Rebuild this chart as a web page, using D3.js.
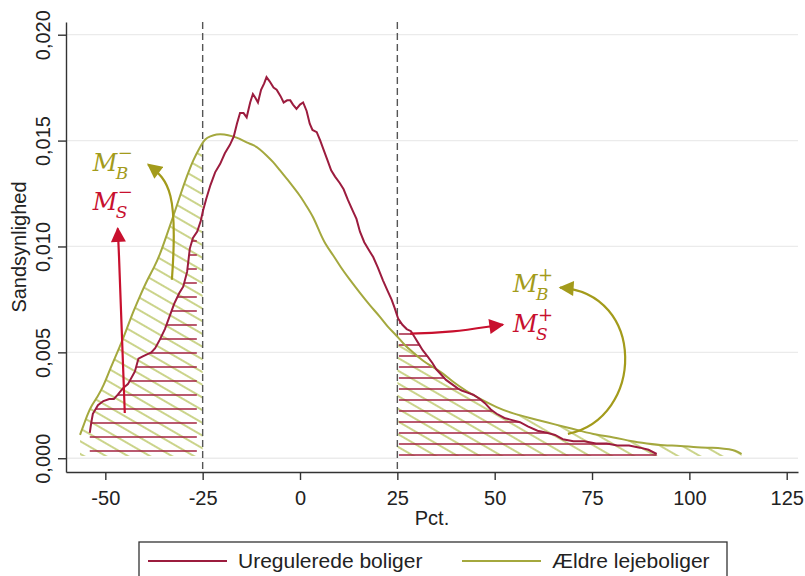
<!DOCTYPE html>
<html>
<head>
<meta charset="utf-8">
<script src="https://cdn.jsdelivr.net/npm/d3@7"></script>
<style>
  body { margin: 0; background: #fff; }
  svg { display: block; font-family: "Liberation Sans", Arial, sans-serif; }
</style>
</head>
<body>
<svg width="805" height="576"></svg>
<script>
// Uregulerede boliger [pct, sandsynlighed]
const uregulerede = [
  [-54.0, 0.0012], [-53.6, 0.0017], [-53.2, 0.0021], [-51.9, 0.0025], [-50.5, 0.0027],
  [-49.0, 0.0028], [-47.8, 0.0028], [-46.8, 0.0030], [-45.5, 0.0033], [-44.2, 0.0035],
  [-42.4, 0.0041], [-41.5, 0.0047], [-40.5, 0.0048], [-39.3, 0.0049], [-38.2, 0.0050],
  [-37.2, 0.0052], [-36.0, 0.0056], [-34.7, 0.0061], [-33.5, 0.0067], [-32.3, 0.0073],
  [-31.0, 0.0078], [-30.0, 0.0081], [-29.0, 0.0088], [-28.3, 0.0099], [-27.5, 0.0104],
  [-26.4, 0.0107], [-25.5, 0.0112], [-24.9, 0.0117], [-24.0, 0.0123], [-23.0, 0.0129],
  [-21.8, 0.0135], [-20.5, 0.0139], [-19.3, 0.0144], [-18.0, 0.0148], [-17.0, 0.0152],
  [-16.2, 0.0158], [-15.4, 0.0163], [-14.5, 0.0163], [-13.7, 0.0161], [-12.8, 0.0168],
  [-12.1, 0.0172], [-11.4, 0.0170], [-10.8, 0.0168], [-10.0, 0.0174], [-9.2, 0.0177],
  [-8.6, 0.0180], [-7.8, 0.0178], [-6.8, 0.0175], [-6.0, 0.0174], [-5.0, 0.0171],
  [-4.2, 0.0168], [-3.3, 0.0169], [-2.5, 0.0169], [-1.8, 0.0167], [-0.9, 0.0165],
  [0.0, 0.0167], [0.8, 0.0168], [1.7, 0.0164], [2.5, 0.0158], [3.2, 0.0155],
  [4.3, 0.0154], [5.2, 0.0150], [6.0, 0.0146], [7.0, 0.0141], [8.0, 0.0136],
  [9.0, 0.0133], [10.2, 0.0130], [11.2, 0.0127], [12.3, 0.0122], [13.5, 0.0117],
  [14.5, 0.0113], [15.4, 0.0107], [16.5, 0.0102], [17.8, 0.0098], [18.8, 0.0095],
  [20.0, 0.0090], [21.3, 0.0084], [22.5, 0.0079], [23.5, 0.0075], [24.3, 0.0071],
  [25.2, 0.0066], [26.3, 0.0063], [27.4, 0.0061], [28.5, 0.0060], [29.5, 0.0057],
  [30.5, 0.0054], [31.5, 0.0051], [32.8, 0.0048], [34.0, 0.0045], [35.0, 0.0042],
  [36.0, 0.0040], [37.5, 0.0037], [39.0, 0.0035], [40.5, 0.0033], [41.5, 0.0032],
  [43.0, 0.0031], [44.5, 0.0030], [46.2, 0.0028], [47.5, 0.0026], [49.0, 0.0023],
  [50.5, 0.0021], [52.5, 0.0019], [54.5, 0.0018], [56.5, 0.0017], [58.5, 0.0015],
  [61.0, 0.0013], [63.4, 0.0012], [65.5, 0.0011], [67.5, 0.0009], [70.2, 0.0008],
  [73.0, 0.0008], [76.0, 0.0007], [78.8, 0.0007], [81.5, 0.0006], [84.5, 0.0006],
  [87.3, 0.0005], [89.5, 0.0004], [91.6, 0.0002]
];

// Ældre lejeboliger [pct, sandsynlighed]
const aeldre = [
  [-56.5, 0.0011], [-55.5, 0.0016], [-54.5, 0.0021], [-53.5, 0.0025], [-52.0, 0.0029],
  [-50.5, 0.0034], [-48.8, 0.0042], [-46.2, 0.0053], [-44.5, 0.0061], [-42.9, 0.0069],
  [-41.0, 0.0077], [-39.3, 0.0084], [-37.5, 0.0090], [-36.0, 0.0096], [-34.3, 0.0105],
  [-32.6, 0.0114], [-30.8, 0.0124], [-29.1, 0.0133], [-27.4, 0.0141], [-25.7, 0.0147],
  [-24.3, 0.0151], [-23.1, 0.0152], [-21.5, 0.0153], [-19.5, 0.0153], [-17.2, 0.0152],
  [-15.5, 0.0151], [-13.7, 0.0149], [-12.0, 0.0148], [-10.3, 0.0146], [-8.6, 0.0143],
  [-6.9, 0.0140], [-5.2, 0.0136], [-3.4, 0.0132], [-1.7, 0.0128], [0.0, 0.0124],
  [1.7, 0.0119], [3.4, 0.0114], [5.0, 0.0107], [6.5, 0.0101], [8.5, 0.0096],
  [10.5, 0.0090], [12.5, 0.0085], [15.4, 0.0078], [18.0, 0.0072], [20.5, 0.0067],
  [22.5, 0.0062], [24.8, 0.0058], [27.0, 0.0053], [29.1, 0.0050], [31.5, 0.0046],
  [34.2, 0.0043], [36.8, 0.0040], [39.3, 0.0036], [42.5, 0.0032], [46.2, 0.0028],
  [50.5, 0.0024], [54.8, 0.0021], [59.0, 0.0019], [63.4, 0.0017], [67.5, 0.0015],
  [71.9, 0.0013], [76.0, 0.0011], [80.5, 0.0010], [85.0, 0.0008], [89.0, 0.0007],
  [93.5, 0.0006], [97.6, 0.0006], [102.0, 0.0005], [106.1, 0.0005], [109.0, 0.00045],
  [111.2, 0.0004], [112.5, 0.0003], [113.4, 0.0002]
];

const xTicks = [-50, -25, 0, 25, 50, 75, 100, 125];
const yTicks = [0, 0.005, 0.010, 0.015, 0.020];
const cutoffs = [-25, 25];
const seriesNames = ["Uregulerede boliger", "Ældre lejeboliger"];

const RED = "#9c1c3e";
const GREEN = "#a4a83e";
const ARROW_RED = "#c8102e";
const ARROW_OLIVE = "#a39b1b";

const svg = d3.select("svg");

const x = d3.scaleLinear().domain([-60.1, 127.9]).range([66, 798]);
const y = d3.scaleLinear().domain([-0.00065, 0.0206]).range([472, 22]);

const da = d3.formatLocale({ decimal: ",", thousands: ".", grouping: [3], currency: ["", " kr."] });
const fmtY = da.format(".3f");

const defs = svg.append("defs");

// skravering
function hatch(id, h, color, width, offset, angle) {
  const p = defs.append("pattern")
    .attr("id", id)
    .attr("patternUnits", "userSpaceOnUse")
    .attr("width", 40)
    .attr("height", h)
    .attr("y", offset);
  if (angle) p.attr("patternTransform", `rotate(${angle})`);
  p.append("line")
    .attr("x1", 0).attr("x2", 40)
    .attr("y1", 1).attr("y2", 1)
    .attr("stroke", color)
    .attr("stroke-width", width);
}
hatch("hatch-green", 11, "#b9c664", 1.4, 0, 30);
hatch("hatch-red-l", 14, "#a3213f", 1.6, 450, 0);
hatch("hatch-red-r", 11, "#a3213f", 1.6, 454, 0);

function clipRect(id, x0, x1) {
  defs.append("clipPath").attr("id", id)
    .append("rect")
    .attr("x", x(x0)).attr("width", x(x1) - x(x0))
    .attr("y", 0).attr("height", 576);
}
clipRect("clip-l", -60, -25);
clipRect("clip-l-red", -60, -26.5);
clipRect("clip-r", 25, 128);
clipRect("clip-r-red", 25.4, 128);

function marker(id, color) {
  defs.append("marker")
    .attr("id", id)
    .attr("viewBox", "0 0 10 10")
    .attr("refX", 9).attr("refY", 5)
    .attr("markerUnits", "userSpaceOnUse")
    .attr("markerWidth", 16).attr("markerHeight", 15)
    .attr("orient", "auto")
    .append("path")
    .attr("d", "M0,0 L10,5 L0,10 z")
    .attr("fill", color);
}
marker("arrow-red", ARROW_RED);
marker("arrow-olive", ARROW_OLIVE);

// gitterlinjer
svg.append("g")
  .selectAll("line")
  .data(yTicks)
  .enter()
  .append("line")
  .attr("x1", x.range()[0]).attr("x2", x.range()[1])
  .attr("y1", d => y(d)).attr("y2", d => y(d))
  .attr("stroke", "#ebebeb")
  .attr("stroke-width", 1.3);

// skraverede områder
const areaRed = d3.area()
  .x(d => x(d[0]))
  .y0(y(0.0001))
  .y1(d => y(d[1]));
const areaGreen = d3.area()
  .curve(d3.curveBasis)
  .x(d => x(d[0]))
  .y0(y(0.0001))
  .y1(d => y(d[1]));

const hatchLayer = svg.append("g");
hatchLayer.append("path").attr("d", areaGreen(aeldre)).attr("fill", "url(#hatch-green)").attr("clip-path", "url(#clip-l)");
hatchLayer.append("path").attr("d", areaGreen(aeldre)).attr("fill", "url(#hatch-green)").attr("clip-path", "url(#clip-r)");
hatchLayer.append("path").attr("d", areaRed(uregulerede)).attr("fill", "url(#hatch-red-l)").attr("clip-path", "url(#clip-l-red)");
hatchLayer.append("path").attr("d", areaRed(uregulerede)).attr("fill", "url(#hatch-red-r)").attr("clip-path", "url(#clip-r-red)");

// stiplede lodrette linjer
svg.append("g")
  .selectAll("line")
  .data(cutoffs)
  .enter()
  .append("line")
  .attr("x1", d => x(d)).attr("x2", d => x(d))
  .attr("y1", y.range()[1]).attr("y2", y.range()[0])
  .attr("stroke", "#555")
  .attr("stroke-width", 1.4)
  .attr("stroke-dasharray", "7,4");

// kurver
const line = d3.line().x(d => x(d[0])).y(d => y(d[1]));
svg.append("path").attr("d", line.curve(d3.curveBasis)(aeldre))
  .attr("fill", "none").attr("stroke", GREEN).attr("stroke-width", 2);
svg.append("path").attr("d", line.curve(d3.curveLinear)(uregulerede))
  .attr("fill", "none").attr("stroke", RED).attr("stroke-width", 2);

// akser
const xAxis = svg.append("g")
  .attr("transform", `translate(0,${y.range()[0]})`)
  .call(d3.axisBottom(x).tickValues(xTicks).tickSize(8).tickSizeOuter(0).tickFormat(d => d));
const yAxis = svg.append("g")
  .attr("transform", `translate(${x.range()[0]},0)`)
  .call(d3.axisLeft(y).tickValues(yTicks).tickSize(8).tickSizeOuter(0).tickFormat(fmtY));

[xAxis, yAxis].forEach(g => {
  g.select(".domain").attr("stroke", "#333").attr("stroke-width", 1.4);
  g.selectAll(".tick line").attr("stroke", "#333").attr("stroke-width", 1.4);
  g.selectAll("text").attr("fill", "#222").style("font-size", "20px")
    .style("font-family", "'Liberation Sans', Arial, sans-serif");
});
xAxis.selectAll("text").attr("y", 33).attr("dy", 0);
yAxis.selectAll("text")
  .attr("x", null).attr("dy", null)
  .attr("text-anchor", "middle")
  .attr("transform", "translate(-16,0) rotate(-90)");

svg.append("text")
  .attr("transform", `translate(26,${(y.range()[0] + y.range()[1]) / 2}) rotate(-90)`)
  .attr("text-anchor", "middle")
  .style("font-size", "20px")
  .attr("fill", "#222")
  .text("Sandsynlighed");

svg.append("text")
  .attr("x", (x.range()[0] + x.range()[1]) / 2)
  .attr("y", 525)
  .attr("text-anchor", "middle")
  .style("font-size", "20px")
  .attr("fill", "#222")
  .text("Pct.");

// pile
const arrows = [
  { color: ARROW_RED, marker: "arrow-red", pts: [[-45.0, 0.00214], [-46.0, 0.0069], [-46.2, 0.0085], [-46.8, 0.01085]] },
  { color: ARROW_OLIVE, marker: "arrow-olive", pts: [[-32.9, 0.00843], [-31.3, 0.0125], [-33.5, 0.0131], [-39.0, 0.01387]] },
  { color: ARROW_RED, marker: "arrow-red", pts: [[28.3, 0.00588], [38.5, 0.0059], [44.0, 0.0061], [52.1, 0.00631]] },
  { color: ARROW_OLIVE, marker: "arrow-olive", pts: [[68.8, 0.00115], [88.5, 0.0019], [89.0, 0.0078], [66.8, 0.00806]] }
];
svg.append("g")
  .selectAll("path")
  .data(arrows)
  .enter()
  .append("path")
  .attr("d", d => {
    const p = d.pts.map(q => [x(q[0]), y(q[1])]);
    return `M${p[0]}C${p[1]} ${p[2]} ${p[3]}`;
  })
  .attr("fill", "none")
  .attr("stroke", d => d.color)
  .attr("stroke-width", 2.2)
  .attr("marker-end", d => `url(#${d.marker})`);

// M-betegnelser (M med sænket og hævet tegn)
const labels = [
  { sub: "B", sup: "\u2212", px: -53.2, py: 0.01358, color: ARROW_OLIVE },
  { sub: "S", sup: "\u2212", px: -53.2, py: 0.01174, color: ARROW_RED },
  { sub: "B", sup: "+", px: 54.7, py: 0.00786, color: ARROW_OLIVE },
  { sub: "S", sup: "+", px: 54.7, py: 0.00598, color: ARROW_RED }
];
const lab = svg.append("g")
  .selectAll("text")
  .data(labels)
  .enter()
  .append("text")
  .attr("transform", d => `translate(${x(d.px)},${y(d.py)})`)
  .attr("fill", d => d.color)
  .style("font-family", "'DejaVu Serif', 'Liberation Serif', serif");
lab.append("tspan").attr("x", 0).attr("y", 0)
  .style("font-size", "24px").style("font-style", "italic").text("M");
lab.append("tspan").attr("x", 23).attr("y", 8)
  .style("font-size", "17px").style("font-style", "italic").text(d => d.sub);
lab.append("tspan").attr("x", 25).attr("y", d => d.sup === "+" ? -11 : -12)
  .style("font-size", "18px").text(d => d.sup);

// legende
const legend = svg.append("g");
legend.append("rect")
  .attr("x", 139).attr("y", 542)
  .attr("width", 588).attr("height", 60)
  .attr("fill", "#fff").attr("stroke", "#333").attr("stroke-width", 1.3);
const items = [
  { name: seriesNames[0], color: RED, x0: 148 },
  { name: seriesNames[1], color: GREEN, x0: 462 }
];
items.forEach(it => {
  legend.append("line")
    .attr("x1", it.x0).attr("x2", it.x0 + 79)
    .attr("y1", 561).attr("y2", 561)
    .attr("stroke", it.color).attr("stroke-width", 2);
  legend.append("text")
    .attr("x", it.x0 + 90).attr("y", 568)
    .style("font-size", "21px").attr("fill", "#222")
    .text(it.name);
});
</script>
</body>
</html>
